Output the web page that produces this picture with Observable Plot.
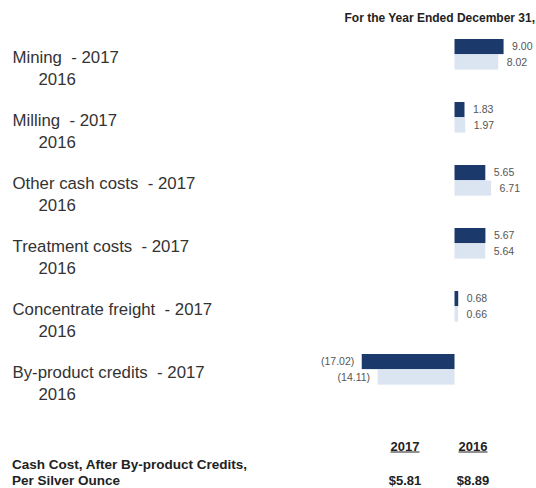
<!DOCTYPE html>
<html>
<head>
<meta charset="utf-8">
<script src="https://cdn.jsdelivr.net/npm/d3@7"></script>
<script src="https://cdn.jsdelivr.net/npm/@observablehq/plot@0.6"></script>
<style>
  html, body { margin: 0; padding: 0; background: #fff; width: 536px; height: 488px; overflow: hidden; }
  body { font-family: "Liberation Sans", Arial, sans-serif; }
  #title { height: 30px; box-sizing: border-box; padding-top: 12px; padding-right: 1px; text-align: right;
           font-size: 12px; line-height: 12px; font-weight: bold; color: #222; white-space: nowrap; }
  #chart svg { display: block; }
  #chart svg text { white-space: pre; }
  #table { position: relative; height: 60px; font-weight: bold; color: #222; }
  #table div { position: absolute; white-space: nowrap; line-height: 15px; }
  .hdr { font-size: 13px; text-decoration: underline; transform: translate(-50%, -50%); }
  .tot { font-size: 13px; transform: translate(-50%, -50%); }
  .note { font-size: 13.5px; left: 12px; transform: translateY(-50%); }
</style>
</head>
<body>
<div id="title"></div>
<div id="chart"></div>
<div id="table"></div>
<script>
const title = "For the Year Ended December 31,";
const categories = ["Mining", "Milling", "Other cash costs", "Treatment costs", "Concentrate freight", "By-product credits"];
const years = ["2017", "2016"];
const values2017 = [9.00, 1.83, 5.65, 5.67, 0.68, -17.02];
const values2016 = [8.02, 1.97, 6.71, 5.64, 0.66, -14.11];
const totalLabels = ["$5.81", "$8.89"];
const noteLines = ["Cash Cost, After By-product Credits,", "Per Silver Ounce"];

const fmt = v => v < 0 ? `(${Math.abs(v).toFixed(2)})` : v.toFixed(2);
const rows2017 = categories.map((c, i) => ({category: c, value: values2017[i], label: fmt(values2017[i])}));
const rows2016 = categories.map((c, i) => ({category: c, value: values2016[i], label: fmt(values2016[i])}));

document.getElementById("title").textContent = title;

const band = 63.4, barH = 15.5;
const dark = "#1b396b", light = "#dbe5f1";
const labelStyle = {fontSize: 16.8, fill: "#333", fontFamily: "Liberation Sans, Arial, sans-serif"};
const valueStyle = {fontSize: 10.5, fill: "#555", fontFamily: "Liberation Sans, Arial, sans-serif"};

const chart = Plot.plot({
  width: 536,
  height: 398,
  marginTop: 7.8,
  marginBottom: 9.8,
  marginLeft: 0,
  marginRight: 0,
  x: {domain: [-83.39, 14.95], axis: null},
  y: {domain: categories, padding: 0, axis: null},
  marks: [
    Plot.barX(rows2016, {x: "value", y: "category", fill: light, insetTop: barH, insetBottom: band - 2 * barH}),
    Plot.barX(rows2017, {x: "value", y: "category", fill: dark, insetTop: 0, insetBottom: band - barH}),
    Plot.text(rows2017.filter(d => d.value >= 0), {x: "value", y: "category", text: "label", textAnchor: "start", dx: 8, dy: barH / 2 - band / 2, ...valueStyle}),
    Plot.text(rows2016.filter(d => d.value >= 0), {x: "value", y: "category", text: "label", textAnchor: "start", dx: 8, dy: 1.5 * barH - band / 2, ...valueStyle}),
    Plot.text(rows2017.filter(d => d.value < 0), {x: "value", y: "category", text: "label", textAnchor: "end", dx: -8, dy: barH / 2 - band / 2, ...valueStyle}),
    Plot.text(rows2016.filter(d => d.value < 0), {x: "value", y: "category", text: "label", textAnchor: "end", dx: -8, dy: 1.5 * barH - band / 2, ...valueStyle}),
    Plot.text(categories, {y: d => d, text: d => d + "\u00a0 - " + years[0], frameAnchor: "left", textAnchor: "start", dx: 12, dy: -13.3, ...labelStyle}),
    Plot.text(categories, {y: d => d, text: () => years[1], frameAnchor: "left", textAnchor: "start", dx: 38, dy: 8.3, ...labelStyle})
  ]
});
document.getElementById("chart").appendChild(chart);

const table = document.getElementById("table");
const colX = [405, 473];
years.forEach((y, i) => {
  const h = document.createElement("div");
  h.className = "hdr"; h.textContent = y;
  h.style.left = colX[i] + "px"; h.style.top = "18px";
  table.appendChild(h);
  const t = document.createElement("div");
  t.className = "tot"; t.textContent = totalLabels[i];
  t.style.left = colX[i] + "px"; t.style.top = "52px";
  table.appendChild(t);
});
noteLines.forEach((line, i) => {
  const n = document.createElement("div");
  n.className = "note"; n.textContent = line;
  n.style.top = (36 + i * 16) + "px";
  table.appendChild(n);
});
</script>
</body>
</html>
